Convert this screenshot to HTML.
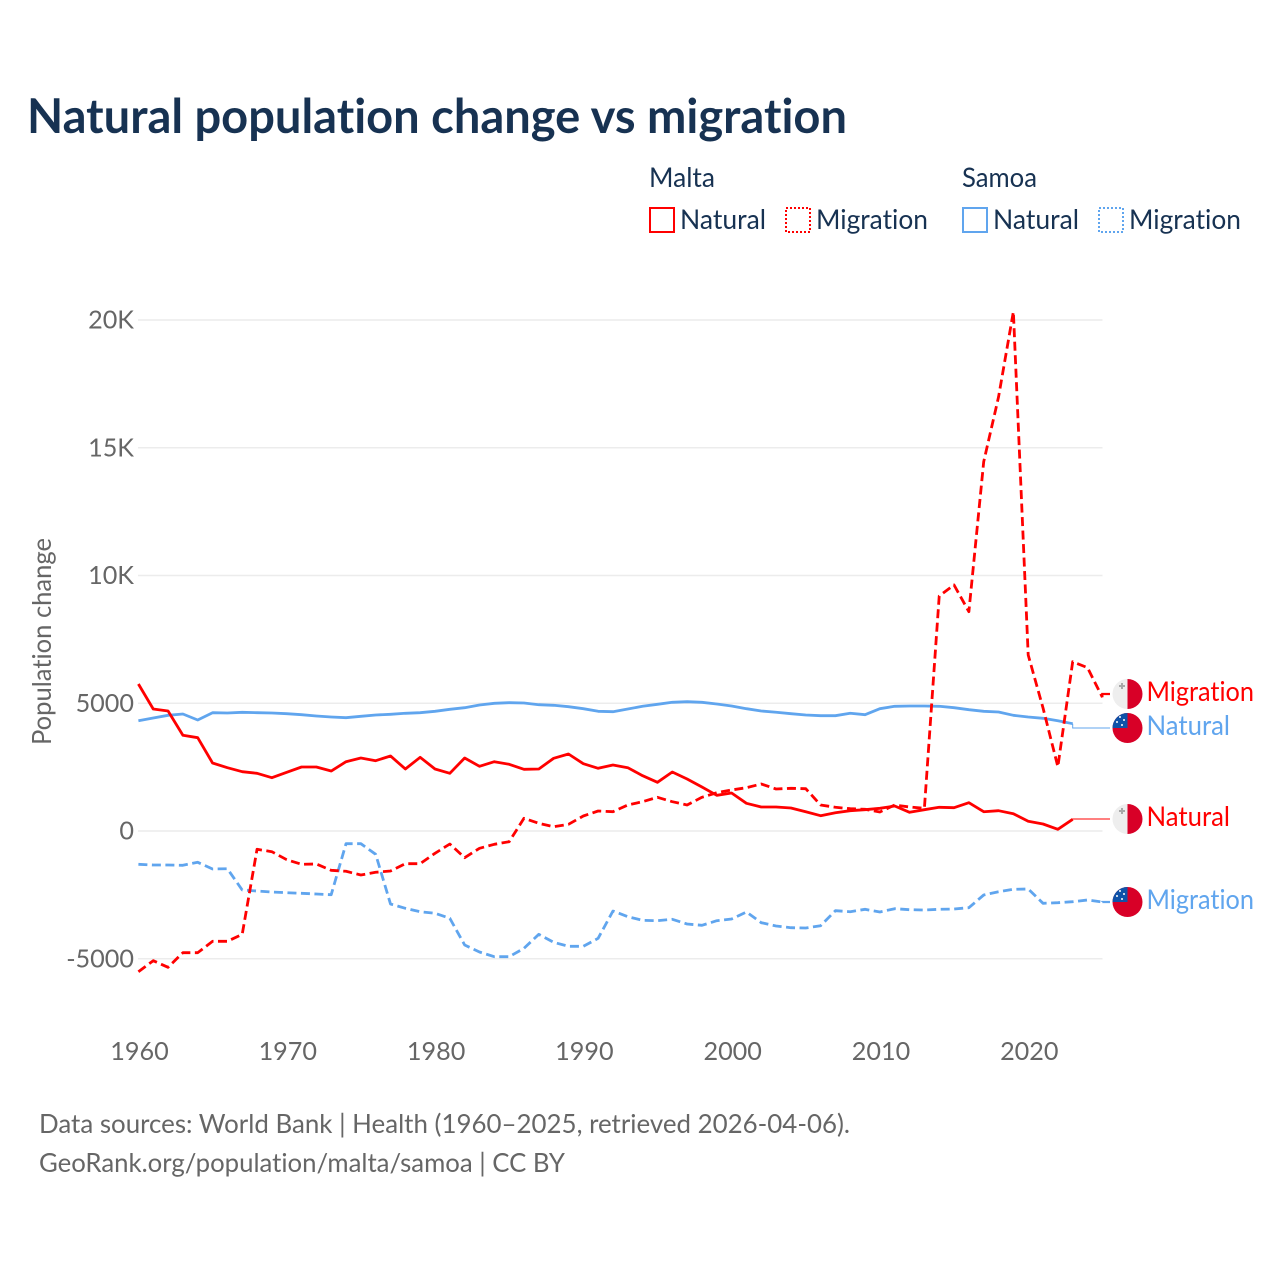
<!DOCTYPE html>
<html lang="en">
<head>
<meta charset="utf-8">
<title>Natural population change vs migration</title>
<style>
html,body{margin:0;padding:0;background:#fff;width:1280px;height:1280px;overflow:hidden}
svg{display:block}
text{font-family:"Lato","Carlito","Liberation Sans",sans-serif;font-variant-ligatures:none}
</style>
</head>
<body>
<svg id="chart" xmlns="http://www.w3.org/2000/svg" width="1280" height="1280" viewBox="0 0 1280 1280">
  <rect width="1280" height="1280" fill="#fff"/>
  <text x="27" y="133" font-size="48" font-weight="700" fill="#173252" textLength="820" lengthAdjust="spacingAndGlyphs">Natural population change vs migration</text>

  <g font-size="27" fill="#173252">
    <text x="649" y="187" textLength="66" lengthAdjust="spacingAndGlyphs">Malta</text>
    <text x="962" y="187" textLength="75" lengthAdjust="spacingAndGlyphs">Samoa</text>
    <g>
      <rect x="650" y="208" width="24" height="24" fill="none" stroke="#ff0000" stroke-width="2"/>
      <text x="680" y="229" textLength="86" lengthAdjust="spacingAndGlyphs">Natural</text>
    </g>
    <g>
      <rect x="786" y="208" width="24" height="24" fill="none" stroke="#ff0000" stroke-width="2" stroke-dasharray="2,2"/>
      <text x="816" y="229" textLength="112" lengthAdjust="spacingAndGlyphs">Migration</text>
    </g>
    <g>
      <rect x="963" y="208" width="24" height="24" fill="none" stroke="#60a5ee" stroke-width="2"/>
      <text x="993" y="229" textLength="86" lengthAdjust="spacingAndGlyphs">Natural</text>
    </g>
    <g>
      <rect x="1099" y="208" width="24" height="24" fill="none" stroke="#60a5ee" stroke-width="2" stroke-dasharray="2,2"/>
      <text x="1129" y="229" textLength="112" lengthAdjust="spacingAndGlyphs">Migration</text>
    </g>
  </g>

  <text transform="translate(51,745) rotate(-90)" font-size="26" fill="#666" textLength="207" lengthAdjust="spacingAndGlyphs">Population change</text>

  <g id="grid"></g>
  <g id="ticks" font-size="25.2" fill="#666"></g>
  <g id="series"></g>

  <defs>
    <clipPath id="flag-clip-1"><circle cx="1127.5" cy="694" r="15"/></clipPath>
    <clipPath id="flag-clip-2"><circle cx="1127.5" cy="728" r="15"/></clipPath>
    <clipPath id="flag-clip-3"><circle cx="1127.5" cy="819" r="15"/></clipPath>
    <clipPath id="flag-clip-4"><circle cx="1127.5" cy="902" r="15"/></clipPath>
  </defs>

  <g clip-path="url(#flag-clip-1)">
    <rect x="1112" y="679" width="15.5" height="30" fill="#eeeeee"/>
    <rect x="1127.5" y="679" width="16" height="30" fill="#d80027"/>
    <path d="M1122 683v6M1119 686h6" stroke="#a8a8a8" stroke-width="2"/>
  </g>
  <g clip-path="url(#flag-clip-2)">
    <rect x="1112" y="713" width="32" height="30" fill="#d80027"/>
    <rect x="1112" y="713" width="15.5" height="15" fill="#0f52a8"/>
    <g fill="#fff"><circle cx="1120" cy="717" r="1"/><circle cx="1124" cy="720" r="1"/><circle cx="1117" cy="722" r="1"/><circle cx="1122" cy="725" r="1"/></g>
  </g>
  <g clip-path="url(#flag-clip-3)">
    <rect x="1112" y="804" width="15.5" height="30" fill="#eeeeee"/>
    <rect x="1127.5" y="804" width="16" height="30" fill="#d80027"/>
    <path d="M1122 808v6M1119 811h6" stroke="#a8a8a8" stroke-width="2"/>
  </g>
  <g clip-path="url(#flag-clip-4)">
    <rect x="1112" y="887" width="32" height="30" fill="#d80027"/>
    <rect x="1112" y="887" width="15.5" height="15" fill="#0f52a8"/>
    <g fill="#fff"><circle cx="1120" cy="891" r="1"/><circle cx="1124" cy="894" r="1"/><circle cx="1117" cy="896" r="1"/><circle cx="1122" cy="899" r="1"/></g>
  </g>

  <g font-size="27">
    <text x="1146.5" y="701" fill="#ff0000" textLength="107.5" lengthAdjust="spacingAndGlyphs">Migration</text>
    <text x="1146.5" y="735" fill="#60a5ee" textLength="83.5" lengthAdjust="spacingAndGlyphs">Natural</text>
    <text x="1146.5" y="826" fill="#ff0000" textLength="83.5" lengthAdjust="spacingAndGlyphs">Natural</text>
    <text x="1146.5" y="909" fill="#60a5ee" textLength="107.5" lengthAdjust="spacingAndGlyphs">Migration</text>
  </g>

  <g font-size="26" fill="#666">
    <text x="39" y="1133" textLength="811" lengthAdjust="spacingAndGlyphs">Data sources: World Bank | Health (1960–2025, retrieved 2026-04-06).</text>
    <text x="39" y="1172" textLength="526" lengthAdjust="spacingAndGlyphs">GeoRank.org/population/malta/samoa | CC BY</text>
  </g>
</svg>
<script>
const startYear = 1960;
const xTickYears = [1960, 1970, 1980, 1990, 2000, 2010, 2020];
const yTickValues = [-5000, 0, 5000, 10000, 15000, 20000];
const yTickLabels = ["-5000", "0", "5000", "10K", "15K", "20K"];

const maltaNatural = [5754,4775,4697,3746,3652,2662,2478,2321,2258,2086,2298,2505,2505,2348,2712,2857,2752,2936,2427,2885,2427,2258,2857,2532,2712,2611,2415,2427,2845,3014,2634,2454,2583,2478,2164,1906,2309,2035,1722,1397,1487,1084,939,939,900,755,599,716,795,834,888,979,732,834,928,912,1108,755,795,677,380,274,67,458];
const maltaMigration = [-5507,-5076,-5335,-4763,-4763,-4317,-4317,-4043,-716,-810,-1123,-1303,-1292,-1538,-1577,-1722,-1616,-1566,-1280,-1280,-873,-509,-1045,-677,-521,-419,497,301,168,262,587,783,755,1018,1147,1319,1147,1018,1319,1499,1605,1695,1840,1644,1671,1656,1018,928,873,849,744,1018,939,888,9198,9628,8583,14454,16987,20325,6889,4814,2517,6626,6392,5233];
const samoaNatural = [4317,4423,4528,4579,4345,4630,4619,4646,4630,4619,4591,4552,4501,4462,4435,4489,4540,4568,4607,4630,4685,4763,4826,4932,4998,5022,5010,4943,4920,4865,4787,4685,4669,4775,4881,4959,5037,5061,5037,4971,4893,4787,4697,4646,4591,4540,4513,4513,4607,4552,4787,4881,4893,4893,4881,4826,4748,4685,4658,4528,4462,4411,4317,4200];
const samoaMigration = [-1303,-1331,-1331,-1342,-1225,-1487,-1476,-2309,-2348,-2388,-2415,-2438,-2466,-2493,-497,-497,-912,-2857,-3025,-3159,-3221,-3417,-4462,-4736,-4920,-4920,-4591,-4043,-4356,-4513,-4513,-4200,-3131,-3354,-3495,-3511,-3456,-3640,-3691,-3511,-3444,-3170,-3589,-3718,-3785,-3797,-3707,-3119,-3159,-3065,-3170,-3041,-3080,-3092,-3065,-3053,-3002,-2505,-2376,-2282,-2270,-2830,-2806,-2767,-2701,-2779];

const SVGNS = 'http://www.w3.org/2000/svg';
function xScale(year) { return 138.4 + (year - 1960) * 14.83; }
function yScale(value) { return 831 - value * 0.02555; }
function make(tag, attrs, parent) {
  const el = document.createElementNS(SVGNS, tag);
  for (const k in attrs) el.setAttribute(k, attrs[k]);
  parent.appendChild(el);
  return el;
}

const grid = document.getElementById('grid');
const ticks = document.getElementById('ticks');
const series = document.getElementById('series');

yTickValues.forEach(function (v, i) {
  const line = make('line', {x1: 138, x2: 1102.5, y1: yScale(v), y2: yScale(v), stroke: '#ececec', 'stroke-width': 1.5}, grid);
  
  
  const t = make('text', {x: 134, y: yScale(v) + 8.5, 'text-anchor': 'end'}, ticks);
  
  
  t.textContent = yTickLabels[i];
});

xTickYears.forEach(function (yr) {
  const t = make('text', {x: xScale(yr) + 1.1, y: 1060, 'text-anchor': 'middle'}, ticks);
  
  
  t.textContent = String(yr);
});

function drawSeries(values, color, dash, labelY, thinConnector, name) {
  const pts = values.map(function (v, i) {
    return xScale(startYear + i).toFixed(2) + ',' + yScale(v).toFixed(2);
  });
  const attrs = {points: pts.join(' '), fill: 'none', stroke: color, 'stroke-width': 2.8, 'stroke-linejoin': 'round'};
  if (dash) attrs['stroke-dasharray'] = '9,4.5';
  const line = make('polyline', attrs, series);
  
  
  const lastX = xScale(startYear + values.length - 1);
  const lastY = yScale(values[values.length - 1]);
  const conn = make('polyline', {
    points: lastX + ',' + lastY + ' ' + lastX + ',' + labelY + ' 1110,' + labelY,
    fill: 'none', stroke: color, 'stroke-width': thinConnector ? 1 : 2.2
  }, series);
  
  
}

drawSeries(samoaNatural, '#60a5ee', false, 728, true, 'line-samoa-natural');
drawSeries(samoaMigration, '#60a5ee', true, 902, false, 'line-samoa-migration');
drawSeries(maltaNatural, '#ff0000', false, 819, true, 'line-malta-natural');
drawSeries(maltaMigration, '#ff0000', true, 694, false, 'line-malta-migration');
</script>
</body>
</html>
